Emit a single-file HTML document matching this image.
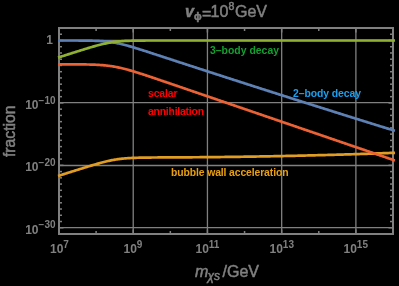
<!DOCTYPE html>
<html><head><meta charset="utf-8">
<style>
html,body{margin:0;padding:0;background:#000;width:399px;height:286px;overflow:hidden}
svg{display:block;position:absolute;left:0;top:0;will-change:transform;filter:blur(0.45px)}
text{font-family:"Liberation Sans",sans-serif}
</style></head><body>
<svg width="399" height="286" viewBox="0 0 399 286">
<defs><clipPath id="clip"><rect x="57" y="20" width="338.5" height="220"/></clipPath></defs>
<rect width="399" height="286" fill="#000"/>
<g stroke="#808080" stroke-width="1.3">
<line x1="133.22" y1="28" x2="133.22" y2="234"/><line x1="207.44" y1="28" x2="207.44" y2="234"/><line x1="281.67" y1="28" x2="281.67" y2="234"/><line x1="355.89" y1="28" x2="355.89" y2="234"/><line x1="59" y1="40.5" x2="393" y2="40.5"/><line x1="59" y1="102.6" x2="393" y2="102.6"/><line x1="59" y1="165.5" x2="393" y2="165.5"/><line x1="59" y1="227.6" x2="393" y2="227.6"/>
</g>
<g stroke="#808080" stroke-width="1.5">
<line x1="59.00" y1="234" x2="59.00" y2="229.5"/><line x1="59.00" y1="28" x2="59.00" y2="32.5"/><line x1="96.11" y1="234" x2="96.11" y2="231"/><line x1="96.11" y1="28" x2="96.11" y2="31"/><line x1="133.22" y1="234" x2="133.22" y2="229.5"/><line x1="133.22" y1="28" x2="133.22" y2="32.5"/><line x1="170.33" y1="234" x2="170.33" y2="231"/><line x1="170.33" y1="28" x2="170.33" y2="31"/><line x1="207.44" y1="234" x2="207.44" y2="229.5"/><line x1="207.44" y1="28" x2="207.44" y2="32.5"/><line x1="244.56" y1="234" x2="244.56" y2="231"/><line x1="244.56" y1="28" x2="244.56" y2="31"/><line x1="281.67" y1="234" x2="281.67" y2="229.5"/><line x1="281.67" y1="28" x2="281.67" y2="32.5"/><line x1="318.78" y1="234" x2="318.78" y2="231"/><line x1="318.78" y1="28" x2="318.78" y2="31"/><line x1="355.89" y1="234" x2="355.89" y2="229.5"/><line x1="355.89" y1="28" x2="355.89" y2="32.5"/><line x1="393.00" y1="234" x2="393.00" y2="231"/><line x1="393.00" y1="28" x2="393.00" y2="31"/><line x1="59" y1="234.00" x2="62" y2="234.00"/><line x1="393" y1="234.00" x2="390" y2="234.00"/><line x1="59" y1="227.76" x2="63.5" y2="227.76"/><line x1="393" y1="227.76" x2="388.5" y2="227.76"/><line x1="59" y1="221.52" x2="62" y2="221.52"/><line x1="393" y1="221.52" x2="390" y2="221.52"/><line x1="59" y1="215.27" x2="62" y2="215.27"/><line x1="393" y1="215.27" x2="390" y2="215.27"/><line x1="59" y1="209.03" x2="62" y2="209.03"/><line x1="393" y1="209.03" x2="390" y2="209.03"/><line x1="59" y1="202.79" x2="62" y2="202.79"/><line x1="393" y1="202.79" x2="390" y2="202.79"/><line x1="59" y1="196.55" x2="62" y2="196.55"/><line x1="393" y1="196.55" x2="390" y2="196.55"/><line x1="59" y1="190.30" x2="62" y2="190.30"/><line x1="393" y1="190.30" x2="390" y2="190.30"/><line x1="59" y1="184.06" x2="62" y2="184.06"/><line x1="393" y1="184.06" x2="390" y2="184.06"/><line x1="59" y1="177.82" x2="62" y2="177.82"/><line x1="393" y1="177.82" x2="390" y2="177.82"/><line x1="59" y1="171.58" x2="62" y2="171.58"/><line x1="393" y1="171.58" x2="390" y2="171.58"/><line x1="59" y1="165.33" x2="63.5" y2="165.33"/><line x1="393" y1="165.33" x2="388.5" y2="165.33"/><line x1="59" y1="159.09" x2="62" y2="159.09"/><line x1="393" y1="159.09" x2="390" y2="159.09"/><line x1="59" y1="152.85" x2="62" y2="152.85"/><line x1="393" y1="152.85" x2="390" y2="152.85"/><line x1="59" y1="146.61" x2="62" y2="146.61"/><line x1="393" y1="146.61" x2="390" y2="146.61"/><line x1="59" y1="140.36" x2="62" y2="140.36"/><line x1="393" y1="140.36" x2="390" y2="140.36"/><line x1="59" y1="134.12" x2="62" y2="134.12"/><line x1="393" y1="134.12" x2="390" y2="134.12"/><line x1="59" y1="127.88" x2="62" y2="127.88"/><line x1="393" y1="127.88" x2="390" y2="127.88"/><line x1="59" y1="121.64" x2="62" y2="121.64"/><line x1="393" y1="121.64" x2="390" y2="121.64"/><line x1="59" y1="115.39" x2="62" y2="115.39"/><line x1="393" y1="115.39" x2="390" y2="115.39"/><line x1="59" y1="109.15" x2="62" y2="109.15"/><line x1="393" y1="109.15" x2="390" y2="109.15"/><line x1="59" y1="102.91" x2="63.5" y2="102.91"/><line x1="393" y1="102.91" x2="388.5" y2="102.91"/><line x1="59" y1="96.67" x2="62" y2="96.67"/><line x1="393" y1="96.67" x2="390" y2="96.67"/><line x1="59" y1="90.42" x2="62" y2="90.42"/><line x1="393" y1="90.42" x2="390" y2="90.42"/><line x1="59" y1="84.18" x2="62" y2="84.18"/><line x1="393" y1="84.18" x2="390" y2="84.18"/><line x1="59" y1="77.94" x2="62" y2="77.94"/><line x1="393" y1="77.94" x2="390" y2="77.94"/><line x1="59" y1="71.70" x2="62" y2="71.70"/><line x1="393" y1="71.70" x2="390" y2="71.70"/><line x1="59" y1="65.45" x2="62" y2="65.45"/><line x1="393" y1="65.45" x2="390" y2="65.45"/><line x1="59" y1="59.21" x2="62" y2="59.21"/><line x1="393" y1="59.21" x2="390" y2="59.21"/><line x1="59" y1="52.97" x2="62" y2="52.97"/><line x1="393" y1="52.97" x2="390" y2="52.97"/><line x1="59" y1="46.73" x2="62" y2="46.73"/><line x1="393" y1="46.73" x2="390" y2="46.73"/><line x1="59" y1="40.48" x2="63.5" y2="40.48"/><line x1="393" y1="40.48" x2="388.5" y2="40.48"/><line x1="59" y1="34.24" x2="62" y2="34.24"/><line x1="393" y1="34.24" x2="390" y2="34.24"/><line x1="59" y1="28.00" x2="62" y2="28.00"/><line x1="393" y1="28.00" x2="390" y2="28.00"/>
</g>
<rect x="59" y="28" width="334" height="206" fill="none" stroke="#808080" stroke-width="2"/>
<g clip-path="url(#clip)">
<polyline fill="none" stroke="#5E81B5" stroke-width="2.7" stroke-linejoin="round" points="58.0,40.48 59.0,40.48 60.0,40.49 61.0,40.49 62.0,40.49 63.0,40.49 64.0,40.49 65.0,40.49 66.0,40.49 67.0,40.49 68.0,40.49 69.0,40.50 70.0,40.50 71.0,40.50 72.0,40.50 73.0,40.51 74.0,40.51 75.0,40.51 76.0,40.52 77.0,40.52 78.0,40.52 79.0,40.53 80.0,40.54 81.0,40.54 82.0,40.55 83.0,40.56 84.0,40.57 85.0,40.58 86.0,40.59 87.0,40.61 88.0,40.62 89.0,40.64 90.0,40.66 91.0,40.68 92.0,40.70 93.0,40.73 94.0,40.76 95.0,40.79 96.0,40.83 97.0,40.87 98.0,40.92 99.0,40.97 100.0,41.02 101.0,41.08 102.0,41.15 103.0,41.22 104.0,41.30 105.0,41.39 106.0,41.48 107.0,41.58 108.0,41.70 109.0,41.82 110.0,41.95 111.0,42.08 112.0,42.23 113.0,42.39 114.0,42.56 115.0,42.73 116.0,42.92 117.0,43.12 118.0,43.32 119.0,43.53 120.0,43.76 121.0,43.99 122.0,44.23 123.0,44.47 124.0,44.73 125.0,44.99 126.0,45.25 127.0,45.53 128.0,45.80 129.0,46.09 130.0,46.37 131.0,46.66 132.0,46.96 133.0,47.26 134.0,47.56 135.0,47.86 136.0,48.17 137.0,48.48 138.0,48.79 139.0,49.11 140.0,49.42 141.0,49.74 142.0,50.05 143.0,50.37 144.0,50.69 145.0,51.01 146.0,51.34 147.0,51.66 148.0,51.98 149.0,52.30 150.0,52.63 151.0,52.95 152.0,53.28 153.0,53.60 154.0,53.93 155.0,54.25 156.0,54.58 157.0,54.91 158.0,55.23 159.0,55.56 160.0,55.89 161.0,56.21 162.0,56.54 163.0,56.87 164.0,57.19 165.0,57.52 166.0,57.85 167.0,58.17 168.0,58.50 169.0,58.83 170.0,59.15 171.0,59.48 172.0,59.81 173.0,60.13 174.0,60.46 175.0,60.79 176.0,61.11 177.0,61.44 178.0,61.77 179.0,62.09 180.0,62.42 181.0,62.74 182.0,63.07 183.0,63.40 184.0,63.72 185.0,64.05 186.0,64.37 187.0,64.70 188.0,65.03 189.0,65.35 190.0,65.68 191.0,66.00 192.0,66.33 193.0,66.65 194.0,66.98 195.0,67.30 196.0,67.63 197.0,67.95 198.0,68.28 199.0,68.60 200.0,68.93 201.0,69.25 202.0,69.58 203.0,69.90 204.0,70.23 205.0,70.55 206.0,70.88 207.0,71.20 208.0,71.53 209.0,71.85 210.0,72.17 211.0,72.50 212.0,72.82 213.0,73.15 214.0,73.47 215.0,73.79 216.0,74.12 217.0,74.44 218.0,74.76 219.0,75.09 220.0,75.41 221.0,75.73 222.0,76.06 223.0,76.38 224.0,76.70 225.0,77.03 226.0,77.35 227.0,77.67 228.0,78.00 229.0,78.32 230.0,78.64 231.0,78.96 232.0,79.29 233.0,79.61 234.0,79.93 235.0,80.25 236.0,80.57 237.0,80.90 238.0,81.22 239.0,81.54 240.0,81.86 241.0,82.18 242.0,82.51 243.0,82.83 244.0,83.15 245.0,83.47 246.0,83.79 247.0,84.11 248.0,84.43 249.0,84.76 250.0,85.08 251.0,85.40 252.0,85.72 253.0,86.04 254.0,86.36 255.0,86.68 256.0,87.00 257.0,87.32 258.0,87.64 259.0,87.96 260.0,88.28 261.0,88.60 262.0,88.92 263.0,89.24 264.0,89.56 265.0,89.88 266.0,90.20 267.0,90.52 268.0,90.84 269.0,91.16 270.0,91.48 271.0,91.80 272.0,92.12 273.0,92.44 274.0,92.76 275.0,93.08 276.0,93.40 277.0,93.72 278.0,94.04 279.0,94.35 280.0,94.67 281.0,94.99 282.0,95.31 283.0,95.63 284.0,95.95 285.0,96.27 286.0,96.58 287.0,96.90 288.0,97.22 289.0,97.54 290.0,97.86 291.0,98.17 292.0,98.49 293.0,98.81 294.0,99.13 295.0,99.45 296.0,99.76 297.0,100.08 298.0,100.40 299.0,100.72 300.0,101.03 301.0,101.35 302.0,101.67 303.0,101.98 304.0,102.30 305.0,102.62 306.0,102.93 307.0,103.25 308.0,103.57 309.0,103.88 310.0,104.20 311.0,104.52 312.0,104.83 313.0,105.15 314.0,105.47 315.0,105.78 316.0,106.10 317.0,106.41 318.0,106.73 319.0,107.05 320.0,107.36 321.0,107.68 322.0,107.99 323.0,108.31 324.0,108.62 325.0,108.94 326.0,109.25 327.0,109.57 328.0,109.89 329.0,110.20 330.0,110.52 331.0,110.83 332.0,111.14 333.0,111.46 334.0,111.77 335.0,112.09 336.0,112.40 337.0,112.72 338.0,113.03 339.0,113.35 340.0,113.66 341.0,113.97 342.0,114.29 343.0,114.60 344.0,114.92 345.0,115.23 346.0,115.54 347.0,115.86 348.0,116.17 349.0,116.49 350.0,116.80 351.0,117.11 352.0,117.43 353.0,117.74 354.0,118.05 355.0,118.36 356.0,118.68 357.0,118.99 358.0,119.30 359.0,119.62 360.0,119.93 361.0,120.24 362.0,120.55 363.0,120.87 364.0,121.18 365.0,121.49 366.0,121.80 367.0,122.12 368.0,122.43 369.0,122.74 370.0,123.05 371.0,123.36 372.0,123.68 373.0,123.99 374.0,124.30 375.0,124.61 376.0,124.92 377.0,125.23 378.0,125.54 379.0,125.86 380.0,126.17 381.0,126.48 382.0,126.79 383.0,127.10 384.0,127.41 385.0,127.72 386.0,128.03 387.0,128.34 388.0,128.65 389.0,128.96 390.0,129.27 391.0,129.58 392.0,129.89 393.0,130.20 394.0,130.51 395.0,130.82"/>
<polyline fill="none" stroke="#E19C24" stroke-width="2.7" stroke-linejoin="round" points="58.0,175.99 59.0,175.67 60.0,175.36 61.0,175.04 62.0,174.72 63.0,174.41 64.0,174.09 65.0,173.77 66.0,173.45 67.0,173.14 68.0,172.82 69.0,172.51 70.0,172.19 71.0,171.87 72.0,171.56 73.0,171.24 74.0,170.93 75.0,170.61 76.0,170.30 77.0,169.98 78.0,169.67 79.0,169.36 80.0,169.04 81.0,168.73 82.0,168.42 83.0,168.11 84.0,167.80 85.0,167.49 86.0,167.18 87.0,166.87 88.0,166.57 89.0,166.26 90.0,165.96 91.0,165.66 92.0,165.36 93.0,165.06 94.0,164.76 95.0,164.47 96.0,164.18 97.0,163.89 98.0,163.61 99.0,163.33 100.0,163.05 101.0,162.78 102.0,162.51 103.0,162.25 104.0,161.99 105.0,161.74 106.0,161.50 107.0,161.26 108.0,161.03 109.0,160.81 110.0,160.59 111.0,160.38 112.0,160.19 113.0,159.99 114.0,159.81 115.0,159.64 116.0,159.48 117.0,159.32 118.0,159.18 119.0,159.04 120.0,158.91 121.0,158.79 122.0,158.68 123.0,158.58 124.0,158.48 125.0,158.39 126.0,158.31 127.0,158.24 128.0,158.17 129.0,158.11 130.0,158.05 131.0,158.00 132.0,157.95 133.0,157.90 134.0,157.86 135.0,157.83 136.0,157.79 137.0,157.76 138.0,157.74 139.0,157.71 140.0,157.69 141.0,157.67 142.0,157.65 143.0,157.63 144.0,157.61 145.0,157.60 146.0,157.58 147.0,157.57 148.0,157.56 149.0,157.55 150.0,157.54 151.0,157.53 152.0,157.52 153.0,157.51 154.0,157.50 155.0,157.49 156.0,157.48 157.0,157.48 158.0,157.47 159.0,157.46 160.0,157.46 161.0,157.45 162.0,157.44 163.0,157.44 164.0,157.43 165.0,157.43 166.0,157.42 167.0,157.42 168.0,157.41 169.0,157.41 170.0,157.40 171.0,157.40 172.0,157.39 173.0,157.39 174.0,157.38 175.0,157.38 176.0,157.37 177.0,157.37 178.0,157.36 179.0,157.36 180.0,157.35 181.0,157.35 182.0,157.34 183.0,157.34 184.0,157.33 185.0,157.33 186.0,157.32 187.0,157.31 188.0,157.31 189.0,157.30 190.0,157.30 191.0,157.29 192.0,157.28 193.0,157.27 194.0,157.27 195.0,157.26 196.0,157.25 197.0,157.25 198.0,157.24 199.0,157.23 200.0,157.22 201.0,157.21 202.0,157.21 203.0,157.20 204.0,157.19 205.0,157.18 206.0,157.17 207.0,157.16 208.0,157.15 209.0,157.14 210.0,157.13 211.0,157.12 212.0,157.11 213.0,157.10 214.0,157.09 215.0,157.08 216.0,157.07 217.0,157.06 218.0,157.05 219.0,157.04 220.0,157.03 221.0,157.02 222.0,157.01 223.0,157.00 224.0,156.99 225.0,156.97 226.0,156.96 227.0,156.95 228.0,156.94 229.0,156.92 230.0,156.91 231.0,156.90 232.0,156.89 233.0,156.87 234.0,156.86 235.0,156.85 236.0,156.83 237.0,156.82 238.0,156.81 239.0,156.79 240.0,156.78 241.0,156.76 242.0,156.75 243.0,156.74 244.0,156.72 245.0,156.71 246.0,156.69 247.0,156.68 248.0,156.66 249.0,156.65 250.0,156.63 251.0,156.61 252.0,156.60 253.0,156.58 254.0,156.57 255.0,156.55 256.0,156.53 257.0,156.52 258.0,156.50 259.0,156.48 260.0,156.47 261.0,156.45 262.0,156.43 263.0,156.42 264.0,156.40 265.0,156.38 266.0,156.36 267.0,156.34 268.0,156.33 269.0,156.31 270.0,156.29 271.0,156.27 272.0,156.25 273.0,156.23 274.0,156.21 275.0,156.19 276.0,156.17 277.0,156.15 278.0,156.13 279.0,156.12 280.0,156.10 281.0,156.07 282.0,156.05 283.0,156.03 284.0,156.01 285.0,155.99 286.0,155.97 287.0,155.95 288.0,155.93 289.0,155.91 290.0,155.89 291.0,155.86 292.0,155.84 293.0,155.82 294.0,155.80 295.0,155.78 296.0,155.75 297.0,155.73 298.0,155.71 299.0,155.69 300.0,155.66 301.0,155.64 302.0,155.62 303.0,155.59 304.0,155.57 305.0,155.55 306.0,155.52 307.0,155.50 308.0,155.47 309.0,155.45 310.0,155.42 311.0,155.40 312.0,155.37 313.0,155.35 314.0,155.32 315.0,155.30 316.0,155.27 317.0,155.25 318.0,155.22 319.0,155.20 320.0,155.17 321.0,155.14 322.0,155.12 323.0,155.09 324.0,155.06 325.0,155.04 326.0,155.01 327.0,154.98 328.0,154.96 329.0,154.93 330.0,154.90 331.0,154.87 332.0,154.85 333.0,154.82 334.0,154.79 335.0,154.76 336.0,154.73 337.0,154.70 338.0,154.68 339.0,154.65 340.0,154.62 341.0,154.59 342.0,154.56 343.0,154.53 344.0,154.50 345.0,154.47 346.0,154.44 347.0,154.41 348.0,154.38 349.0,154.35 350.0,154.32 351.0,154.29 352.0,154.26 353.0,154.23 354.0,154.19 355.0,154.16 356.0,154.13 357.0,154.10 358.0,154.07 359.0,154.04 360.0,154.00 361.0,153.97 362.0,153.94 363.0,153.91 364.0,153.87 365.0,153.84 366.0,153.81 367.0,153.78 368.0,153.74 369.0,153.71 370.0,153.67 371.0,153.64 372.0,153.61 373.0,153.57 374.0,153.54 375.0,153.50 376.0,153.47 377.0,153.44 378.0,153.40 379.0,153.37 380.0,153.33 381.0,153.30 382.0,153.26 383.0,153.22 384.0,153.19 385.0,153.15 386.0,153.12 387.0,153.08 388.0,153.04 389.0,153.01 390.0,152.97 391.0,152.93 392.0,152.90 393.0,152.86 394.0,152.82 395.0,152.79"/>
<polyline fill="none" stroke="#8FB032" stroke-width="2.7" stroke-linejoin="round" points="58.0,57.61 59.0,57.29 60.0,56.97 61.0,56.65 62.0,56.33 63.0,56.01 64.0,55.69 65.0,55.37 66.0,55.05 67.0,54.73 68.0,54.41 69.0,54.09 70.0,53.77 71.0,53.46 72.0,53.14 73.0,52.82 74.0,52.50 75.0,52.18 76.0,51.87 77.0,51.55 78.0,51.24 79.0,50.92 80.0,50.61 81.0,50.29 82.0,49.98 83.0,49.67 84.0,49.36 85.0,49.05 86.0,48.74 87.0,48.44 88.0,48.14 89.0,47.84 90.0,47.54 91.0,47.24 92.0,46.95 93.0,46.66 94.0,46.37 95.0,46.09 96.0,45.81 97.0,45.53 98.0,45.27 99.0,45.00 100.0,44.74 101.0,44.49 102.0,44.25 103.0,44.01 104.0,43.78 105.0,43.56 106.0,43.34 107.0,43.14 108.0,42.94 109.0,42.76 110.0,42.58 111.0,42.41 112.0,42.25 113.0,42.10 114.0,41.96 115.0,41.83 116.0,41.71 117.0,41.60 118.0,41.49 119.0,41.40 120.0,41.31 121.0,41.23 122.0,41.15 123.0,41.09 124.0,41.02 125.0,40.97 126.0,40.92 127.0,40.87 128.0,40.83 129.0,40.79 130.0,40.76 131.0,40.73 132.0,40.70 133.0,40.68 134.0,40.66 135.0,40.64 136.0,40.62 137.0,40.61 138.0,40.59 139.0,40.58 140.0,40.57 141.0,40.56 142.0,40.55 143.0,40.54 144.0,40.54 145.0,40.53 146.0,40.52 147.0,40.52 148.0,40.51 149.0,40.51 150.0,40.51 151.0,40.50 152.0,40.50 153.0,40.50 154.0,40.50 155.0,40.50 156.0,40.49 157.0,40.49 158.0,40.49 159.0,40.49 160.0,40.49 161.0,40.49 162.0,40.49 163.0,40.49 164.0,40.49 165.0,40.48 166.0,40.48 167.0,40.48 168.0,40.48 169.0,40.48 170.0,40.48 171.0,40.48 172.0,40.48 173.0,40.48 174.0,40.48 175.0,40.48 176.0,40.48 177.0,40.48 178.0,40.48 179.0,40.48 180.0,40.48 181.0,40.48 182.0,40.48 183.0,40.48 184.0,40.48 185.0,40.48 186.0,40.48 187.0,40.48 188.0,40.48 189.0,40.48 190.0,40.48 191.0,40.48 192.0,40.48 193.0,40.48 194.0,40.48 195.0,40.48 196.0,40.48 197.0,40.48 198.0,40.48 199.0,40.48 200.0,40.48 201.0,40.48 202.0,40.48 203.0,40.48 204.0,40.48 205.0,40.48 206.0,40.48 207.0,40.48 208.0,40.48 209.0,40.48 210.0,40.48 211.0,40.48 212.0,40.48 213.0,40.48 214.0,40.48 215.0,40.48 216.0,40.48 217.0,40.48 218.0,40.48 219.0,40.48 220.0,40.48 221.0,40.48 222.0,40.48 223.0,40.48 224.0,40.48 225.0,40.48 226.0,40.48 227.0,40.48 228.0,40.48 229.0,40.48 230.0,40.48 231.0,40.48 232.0,40.48 233.0,40.48 234.0,40.48 235.0,40.48 236.0,40.48 237.0,40.48 238.0,40.48 239.0,40.48 240.0,40.48 241.0,40.48 242.0,40.48 243.0,40.48 244.0,40.48 245.0,40.48 246.0,40.48 247.0,40.48 248.0,40.48 249.0,40.48 250.0,40.48 251.0,40.48 252.0,40.48 253.0,40.48 254.0,40.48 255.0,40.48 256.0,40.48 257.0,40.48 258.0,40.48 259.0,40.48 260.0,40.48 261.0,40.48 262.0,40.48 263.0,40.48 264.0,40.48 265.0,40.48 266.0,40.48 267.0,40.48 268.0,40.48 269.0,40.48 270.0,40.48 271.0,40.48 272.0,40.48 273.0,40.48 274.0,40.48 275.0,40.48 276.0,40.48 277.0,40.48 278.0,40.48 279.0,40.48 280.0,40.48 281.0,40.48 282.0,40.48 283.0,40.48 284.0,40.48 285.0,40.48 286.0,40.48 287.0,40.48 288.0,40.48 289.0,40.48 290.0,40.48 291.0,40.48 292.0,40.48 293.0,40.48 294.0,40.48 295.0,40.48 296.0,40.48 297.0,40.48 298.0,40.48 299.0,40.48 300.0,40.48 301.0,40.48 302.0,40.48 303.0,40.48 304.0,40.48 305.0,40.48 306.0,40.48 307.0,40.48 308.0,40.48 309.0,40.48 310.0,40.48 311.0,40.48 312.0,40.48 313.0,40.48 314.0,40.48 315.0,40.48 316.0,40.48 317.0,40.48 318.0,40.48 319.0,40.48 320.0,40.48 321.0,40.48 322.0,40.48 323.0,40.48 324.0,40.48 325.0,40.48 326.0,40.48 327.0,40.48 328.0,40.48 329.0,40.48 330.0,40.48 331.0,40.48 332.0,40.48 333.0,40.48 334.0,40.48 335.0,40.48 336.0,40.48 337.0,40.48 338.0,40.48 339.0,40.48 340.0,40.48 341.0,40.48 342.0,40.48 343.0,40.48 344.0,40.48 345.0,40.48 346.0,40.48 347.0,40.48 348.0,40.48 349.0,40.48 350.0,40.48 351.0,40.48 352.0,40.48 353.0,40.48 354.0,40.48 355.0,40.48 356.0,40.48 357.0,40.48 358.0,40.48 359.0,40.48 360.0,40.48 361.0,40.48 362.0,40.48 363.0,40.48 364.0,40.48 365.0,40.48 366.0,40.48 367.0,40.48 368.0,40.48 369.0,40.48 370.0,40.48 371.0,40.48 372.0,40.48 373.0,40.48 374.0,40.48 375.0,40.48 376.0,40.48 377.0,40.48 378.0,40.48 379.0,40.48 380.0,40.48 381.0,40.48 382.0,40.48 383.0,40.48 384.0,40.48 385.0,40.48 386.0,40.48 387.0,40.48 388.0,40.48 389.0,40.48 390.0,40.48 391.0,40.48 392.0,40.48 393.0,40.48 394.0,40.48 395.0,40.48"/>
<polyline fill="none" stroke="#EB6235" stroke-width="2.7" stroke-linejoin="round" points="58.0,64.28 59.0,64.29 60.0,64.29 61.0,64.29 62.0,64.29 63.0,64.29 64.0,64.29 65.0,64.30 66.0,64.30 67.0,64.30 68.0,64.30 69.0,64.31 70.0,64.31 71.0,64.31 72.0,64.32 73.0,64.32 74.0,64.33 75.0,64.33 76.0,64.34 77.0,64.35 78.0,64.36 79.0,64.36 80.0,64.37 81.0,64.38 82.0,64.40 83.0,64.41 84.0,64.42 85.0,64.44 86.0,64.46 87.0,64.48 88.0,64.50 89.0,64.52 90.0,64.55 91.0,64.57 92.0,64.61 93.0,64.64 94.0,64.68 95.0,64.72 96.0,64.76 97.0,64.81 98.0,64.87 99.0,64.92 100.0,64.99 101.0,65.06 102.0,65.13 103.0,65.21 104.0,65.30 105.0,65.39 106.0,65.49 107.0,65.60 108.0,65.72 109.0,65.85 110.0,65.98 111.0,66.12 112.0,66.27 113.0,66.43 114.0,66.60 115.0,66.77 116.0,66.96 117.0,67.15 118.0,67.35 119.0,67.57 120.0,67.79 121.0,68.01 122.0,68.25 123.0,68.49 124.0,68.74 125.0,69.00 126.0,69.26 127.0,69.53 128.0,69.80 129.0,70.08 130.0,70.37 131.0,70.66 132.0,70.95 133.0,71.25 134.0,71.55 135.0,71.86 136.0,72.17 137.0,72.48 138.0,72.79 139.0,73.11 140.0,73.43 141.0,73.75 142.0,74.07 143.0,74.40 144.0,74.73 145.0,75.06 146.0,75.38 147.0,75.72 148.0,76.05 149.0,76.38 150.0,76.71 151.0,77.05 152.0,77.38 153.0,77.72 154.0,78.06 155.0,78.39 156.0,78.73 157.0,79.07 158.0,79.41 159.0,79.75 160.0,80.09 161.0,80.43 162.0,80.77 163.0,81.11 164.0,81.45 165.0,81.79 166.0,82.13 167.0,82.47 168.0,82.81 169.0,83.15 170.0,83.49 171.0,83.83 172.0,84.17 173.0,84.52 174.0,84.86 175.0,85.20 176.0,85.54 177.0,85.88 178.0,86.22 179.0,86.57 180.0,86.91 181.0,87.25 182.0,87.59 183.0,87.93 184.0,88.28 185.0,88.62 186.0,88.96 187.0,89.30 188.0,89.65 189.0,89.99 190.0,90.33 191.0,90.67 192.0,91.01 193.0,91.36 194.0,91.70 195.0,92.04 196.0,92.38 197.0,92.73 198.0,93.07 199.0,93.41 200.0,93.75 201.0,94.10 202.0,94.44 203.0,94.78 204.0,95.12 205.0,95.46 206.0,95.81 207.0,96.15 208.0,96.49 209.0,96.83 210.0,97.18 211.0,97.52 212.0,97.86 213.0,98.20 214.0,98.55 215.0,98.89 216.0,99.23 217.0,99.57 218.0,99.91 219.0,100.26 220.0,100.60 221.0,100.94 222.0,101.28 223.0,101.63 224.0,101.97 225.0,102.31 226.0,102.65 227.0,103.00 228.0,103.34 229.0,103.68 230.0,104.02 231.0,104.37 232.0,104.71 233.0,105.05 234.0,105.39 235.0,105.73 236.0,106.08 237.0,106.42 238.0,106.76 239.0,107.10 240.0,107.45 241.0,107.79 242.0,108.13 243.0,108.47 244.0,108.82 245.0,109.16 246.0,109.50 247.0,109.84 248.0,110.19 249.0,110.53 250.0,110.87 251.0,111.21 252.0,111.55 253.0,111.90 254.0,112.24 255.0,112.58 256.0,112.92 257.0,113.27 258.0,113.61 259.0,113.95 260.0,114.29 261.0,114.64 262.0,114.98 263.0,115.32 264.0,115.66 265.0,116.01 266.0,116.35 267.0,116.69 268.0,117.03 269.0,117.38 270.0,117.72 271.0,118.06 272.0,118.40 273.0,118.74 274.0,119.09 275.0,119.43 276.0,119.77 277.0,120.11 278.0,120.46 279.0,120.80 280.0,121.14 281.0,121.48 282.0,121.83 283.0,122.17 284.0,122.51 285.0,122.85 286.0,123.20 287.0,123.54 288.0,123.88 289.0,124.22 290.0,124.56 291.0,124.91 292.0,125.25 293.0,125.59 294.0,125.93 295.0,126.28 296.0,126.62 297.0,126.96 298.0,127.30 299.0,127.65 300.0,127.99 301.0,128.33 302.0,128.67 303.0,129.02 304.0,129.36 305.0,129.70 306.0,130.04 307.0,130.38 308.0,130.73 309.0,131.07 310.0,131.41 311.0,131.75 312.0,132.10 313.0,132.44 314.0,132.78 315.0,133.12 316.0,133.47 317.0,133.81 318.0,134.15 319.0,134.49 320.0,134.84 321.0,135.18 322.0,135.52 323.0,135.86 324.0,136.20 325.0,136.55 326.0,136.89 327.0,137.23 328.0,137.57 329.0,137.92 330.0,138.26 331.0,138.60 332.0,138.94 333.0,139.29 334.0,139.63 335.0,139.97 336.0,140.31 337.0,140.66 338.0,141.00 339.0,141.34 340.0,141.68 341.0,142.02 342.0,142.37 343.0,142.71 344.0,143.05 345.0,143.39 346.0,143.74 347.0,144.08 348.0,144.42 349.0,144.76 350.0,145.11 351.0,145.45 352.0,145.79 353.0,146.13 354.0,146.48 355.0,146.82 356.0,147.16 357.0,147.50 358.0,147.84 359.0,148.19 360.0,148.53 361.0,148.87 362.0,149.21 363.0,149.56 364.0,149.90 365.0,150.24 366.0,150.58 367.0,150.93 368.0,151.27 369.0,151.61 370.0,151.95 371.0,152.30 372.0,152.64 373.0,152.98 374.0,153.32 375.0,153.66 376.0,154.01 377.0,154.35 378.0,154.69 379.0,155.03 380.0,155.38 381.0,155.72 382.0,156.06 383.0,156.40 384.0,156.75 385.0,157.09 386.0,157.43 387.0,157.77 388.0,158.12 389.0,158.46 390.0,158.80 391.0,159.14 392.0,159.49 393.0,159.83 394.0,160.17 395.0,160.51"/>
</g>
<g fill="#808080" stroke="#808080" stroke-width="0" font-size="12" font-weight="bold">
<text x="53" y="44.3" text-anchor="end">1</text>
<text x="25.2" y="109"><tspan>10</tspan><tspan font-size="10" dy="-5.5">−10</tspan></text><text x="25.2" y="171.4"><tspan>10</tspan><tspan font-size="10" dy="-5.5">−20</tspan></text><text x="25.2" y="233.8"><tspan>10</tspan><tspan font-size="10" dy="-5.5">−30</tspan></text>
<text x="50" y="253"><tspan>10</tspan><tspan font-size="10" dy="-5.4">7</tspan></text><text x="123.5" y="253"><tspan>10</tspan><tspan font-size="10" dy="-5.4">9</tspan></text><text x="195.5" y="253"><tspan>10</tspan><tspan font-size="10" dy="-5.4">11</tspan></text><text x="269.5" y="253"><tspan>10</tspan><tspan font-size="10" dy="-5.4">13</tspan></text><text x="343.5" y="253"><tspan>10</tspan><tspan font-size="10" dy="-5.4">15</tspan></text>
</g>
<g fill="#808080" stroke="#808080" stroke-width="0.5" font-size="16">
<text x="185" y="17" font-style="italic" font-weight="bold">v</text>
<text x="194" y="20" font-size="10.2" font-weight="bold">ϕ</text>
<text x="202" y="18.8">=</text><text x="210.5" y="17">10</text>
<text x="228.5" y="10" font-size="10.5">8</text>
<text x="235" y="17">GeV</text>
<text x="195" y="276.5" font-style="italic">m</text>
<text x="207.5" y="280" font-size="12" font-style="italic">χs</text>
<text x="222.5" y="276.5">/GeV</text>
<text transform="translate(15,157) rotate(-90)" font-size="15.7">fraction</text>
</g>
<g font-size="10.4" font-weight="bold" stroke-width="0">
<text x="210" y="54" fill="#14A030" stroke="#14A030" textLength="69" lengthAdjust="spacing">3–body decay</text>
<text x="293" y="96.6" fill="#1AA0F0" stroke="#1AA0F0" textLength="68" lengthAdjust="spacing">2–body decay</text>
<text x="148" y="97" fill="#FF0000" stroke="#FF0000" textLength="29.5" lengthAdjust="spacing">scalar</text>
<text x="148" y="114.7" fill="#FF0000" stroke="#FF0000" textLength="56" lengthAdjust="spacing">annihilation</text>
<text x="171" y="176.3" fill="#E8A010" stroke="#E8A010" textLength="117.5" lengthAdjust="spacing">bubble wall acceleration</text>
</g>
</svg>
</body></html>
